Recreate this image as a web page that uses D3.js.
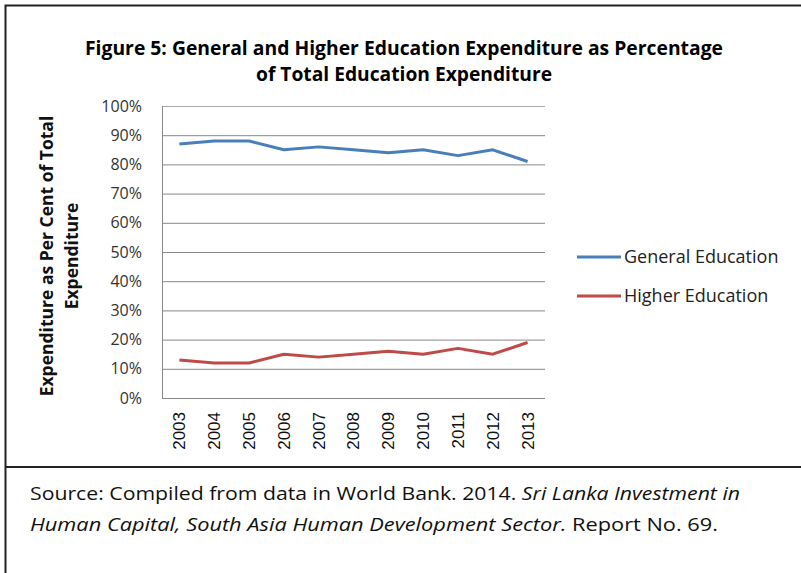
<!DOCTYPE html>
<html>
<head>
<meta charset="utf-8">
<script src="https://cdn.jsdelivr.net/npm/d3@7"></script>
<style>
  body { margin: 0; background: #fff; }
  svg { display: block; }
</style>
</head>
<body>
<script>
// data
var years = ['2003','2004','2005','2006','2007','2008','2009','2010','2011','2012','2013'];
var general = [87, 88, 88, 85, 86, 85, 84, 85, 83, 85, 81];
var higher = [13, 12, 12, 15, 14, 15, 16, 15, 17, 15, 19];
var seriesNames = ['General Education', 'Higher Education'];
var seriesColors = ['#4a7ebb', '#be4b48'];
var yTicks = [0, 10, 20, 30, 40, 50, 60, 70, 80, 90, 100];

var W = 801, H = 573;
var svg = d3.select('body').append('svg').attr('width', W).attr('height', H);

// frame
svg.append('path').attr('d', 'M5.5,573 V5.5 H801').attr('fill', 'none').attr('stroke', '#222').attr('stroke-width', 2);
svg.append('line').attr('x1', 5).attr('x2', 801).attr('y1', 467).attr('y2', 467).attr('stroke', '#222').attr('stroke-width', 2);

// title
var title = svg.append('text').attr('text-anchor', 'middle')
  .style('font-family', '"Open Sans", sans-serif')
  .style('font-weight', 'bold').style('font-size', '19px').attr('fill', '#000');
title.append('tspan').attr('x', 404).attr('y', 55).attr('textLength', 638).attr('lengthAdjust', 'spacingAndGlyphs')
  .text('Figure 5: General and Higher Education Expenditure as Percentage');
title.append('tspan').attr('x', 404).attr('y', 81).attr('textLength', 296).attr('lengthAdjust', 'spacingAndGlyphs')
  .text('of Total Education Expenditure');

var m = { left: 162, top: 106, right: 545, bottom: 398 };
var x = d3.scaleBand().domain(years).range([m.left, m.right]);
var y = d3.scaleLinear().domain([0, 100]).range([m.bottom, m.top]);

// grid
svg.append('g').selectAll('line').data(yTicks).enter().append('line')
  .attr('x1', m.left).attr('x2', m.right)
  .attr('y1', function(d){ return y(d) + 0.5 }).attr('y2', function(d){ return y(d) + 0.5 })
  .attr('stroke', function(d){ return d === 100 ? '#aaa' : '#888' }).attr('stroke-width', 1);
svg.append('line').attr('x1', m.left + 0.5).attr('x2', m.left + 0.5).attr('y1', m.top).attr('y2', m.bottom)
  .attr('stroke', '#888');

// y axis labels
var yAxis = svg.append('g').attr('transform', 'translate(' + (m.left - 20) + ',0)')
  .call(d3.axisLeft(y).tickValues(yTicks).tickSize(0).tickPadding(0).tickFormat(function(d){ return d + '%' }));
yAxis.select('.domain').remove();
yAxis.selectAll('text').attr('fill', '#333')
  .style('font-family', '"Open Sans", sans-serif').style('font-size', '16px');

// x axis labels (rotated)
var xAxis = svg.append('g').attr('transform', 'translate(0,' + (m.bottom + 14) + ')')
  .call(d3.axisBottom(x).tickSize(0));
xAxis.select('.domain').remove();
xAxis.selectAll('text')
  .attr('transform', 'rotate(-90)')
  .attr('text-anchor', 'end').attr('x', 0).attr('y', 0).attr('dy', '0.35em')
  .attr('fill', '#111')
  .style('font-family', '"Liberation Sans", Arial, sans-serif').style('font-size', '17px');

// y axis title
var yt = svg.append('text').attr('text-anchor', 'middle').attr('transform', 'rotate(-90)')
  .style('font-family', '"Open Sans", sans-serif').style('font-weight', 'bold').style('font-size', '17.5px').attr('fill', '#111');
yt.append('tspan').attr('x', -256).attr('y', 53).text('Expenditure as Per Cent of Total');
yt.append('tspan').attr('x', -256).attr('y', 78).text('Expenditure');

// lines
var line = d3.line().x(function(d, i){ return x(years[i]) + x.bandwidth() / 2 }).y(function(d){ return y(d) });
[general, higher].forEach(function(s, i) {
  svg.append('path').datum(s).attr('d', line).attr('fill', 'none')
    .attr('stroke', seriesColors[i]).attr('stroke-width', 3).attr('stroke-linejoin', 'round');
});

// legend
var lg = svg.append('g').selectAll('g').data(seriesNames).enter().append('g')
  .attr('transform', function(d, i){ return 'translate(577,' + (257 + i * 39) + ')' });
lg.append('line').attr('x1', 0).attr('x2', 44).attr('stroke', function(d, i){ return seriesColors[i] }).attr('stroke-width', 3);
lg.append('text').attr('x', 47).attr('dy', '0.35em').text(function(d){ return d })
  .style('font-family', '"Open Sans", sans-serif').style('font-size', '18px').attr('fill', '#222');

// source note
var src = svg.append('text').style('font-family', '"Open Sans", sans-serif')
  .style('font-size', '19px').attr('fill', '#111');
var l1 = src.append('tspan').attr('x', 30).attr('y', 500).attr('textLength', 710).attr('lengthAdjust', 'spacingAndGlyphs');
l1.append('tspan').text('Source: Compiled from data in World Bank. 2014. ');
l1.append('tspan').style('font-style', 'italic').text('Sri Lanka Investment in');
var l2 = src.append('tspan').attr('x', 30).attr('y', 531).attr('textLength', 688).attr('lengthAdjust', 'spacingAndGlyphs');
l2.append('tspan').style('font-style', 'italic').text('Human Capital, South Asia Human Development Sector.');
l2.append('tspan').text('  Report No. 69.');
</script>
</body>
</html>
